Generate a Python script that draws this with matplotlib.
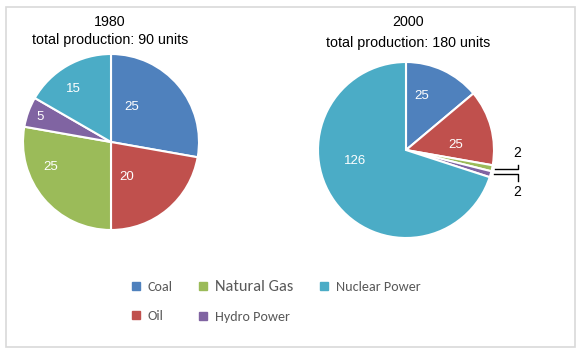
import numpy as np
import matplotlib
matplotlib.use("Agg")
import matplotlib.pyplot as plt
from matplotlib.patches import Rectangle
from matplotlib.lines import Line2D

# data
sources = ["Coal", "Oil", "Natural Gas", "Hydro Power", "Nuclear Power"]
values_1980 = [25, 20, 25, 5, 15]
values_2000 = [25, 25, 2, 2, 126]
years = ["1980", "2000"]
totals = ["total production: 90 units", "total production: 180 units"]
colors = ["#4F81BD", "#C0504D", "#9BBB59", "#8064A2", "#4BACC6"]

W, H = 580, 354
plt.rcParams['font.family'] = ['Liberation Sans', 'DejaVu Sans']


def px_axes(fig, x, y, w, h):
    """axes from pixel box (top-left origin)"""
    return fig.add_axes([x / W, 1 - (y + h) / H, w / W, h / H])


# label placement, (x, y) in pie-radius units relative to centre
label_pos_1980 = [(0.23, 0.40), (0.18, -0.40), (-0.69, -0.28), (-0.81, 0.28), (-0.43, 0.60)]
label_pos_2000 = [(0.18, 0.61), (0.56, 0.06), None, None, (-0.58, -0.13)]


def draw_pie(ax, values, label_pos):
    wedges, _ = ax.pie(values, colors=colors, startangle=90, counterclock=False,
                       radius=1.0, wedgeprops=dict(edgecolor="white", linewidth=1.5))
    ax.set_xlim(-1, 1)
    ax.set_ylim(-1, 1)
    ax.set_aspect("equal")
    ax.axis("off")
    for v, pos in zip(values, label_pos):
        if pos is None:
            continue
        ax.text(pos[0], pos[1], str(v), color="white", fontsize=9.5,
                ha="center", va="center")
    return wedges


fig = plt.figure(figsize=(W / 100, H / 100), dpi=100)

# border
fig.patches.append(Rectangle((6 / W, 1 - 347 / H), 569 / W, 340 / H,
                             transform=fig.transFigure, fill=False,
                             edgecolor="#D9D9D9", linewidth=1.2))

ax1 = px_axes(fig, 23, 54, 176, 176)
draw_pie(ax1, values_1980, label_pos_1980)

ax2 = px_axes(fig, 318, 62, 176, 176)
draw_pie(ax2, values_2000, label_pos_2000)

# titles
for cx, y_year, y_total, yr, tot in [(110, 22, 40, years[0], totals[0]),
                                     (408, 22, 43, years[1], totals[1])]:
    fig.text(cx / W, 1 - y_year / H, yr, ha="center", va="center", fontsize=10.3)
    fig.text(cx / W, 1 - y_total / H, tot, ha="center", va="center", fontsize=10.3)

# leader lines for the two small 2000 slices
def pxl(x, y):
    return (x - 406) / 88, (150 - y) / 88

for (x0, y0), (x1, y1), (lx, ly), v in [
        ((495, 169), (518, 165), (517, 153), values_2000[2]),
        ((494, 174), (518, 181), (517, 192), values_2000[3])]:
    a = pxl(x0, y0)
    b = pxl(x1, y0)
    c = pxl(x1, y1)
    ax2.plot([a[0], b[0], c[0]], [a[1], b[1], c[1]], color="black", lw=1, clip_on=False)
    t = pxl(lx, ly)
    ax2.text(t[0], t[1], str(v), ha="center", va="center", fontsize=10, clip_on=False)

# legend
handles = [Line2D([], [], marker="s", linestyle="none", markersize=5.5,
                  markerfacecolor=c, markeredgecolor=c) for c in colors]
leg = fig.legend(handles, sources, ncol=3, loc="upper left",
                 bbox_to_anchor=(118 / W, 1 - 267 / H), frameon=False,
                 handlelength=0.7, handletextpad=0.5,
                 columnspacing=1.8, labelspacing=1.2,
                 prop={'family': ['Carlito', 'Lato', 'DejaVu Sans'], 'size': 10.2})
for txt in leg.get_texts():
    txt.set_color("#595959")
    if txt.get_text() == "Natural Gas":
        txt.set_fontsize(11.8)

fig.savefig("out.png", dpi=100)
